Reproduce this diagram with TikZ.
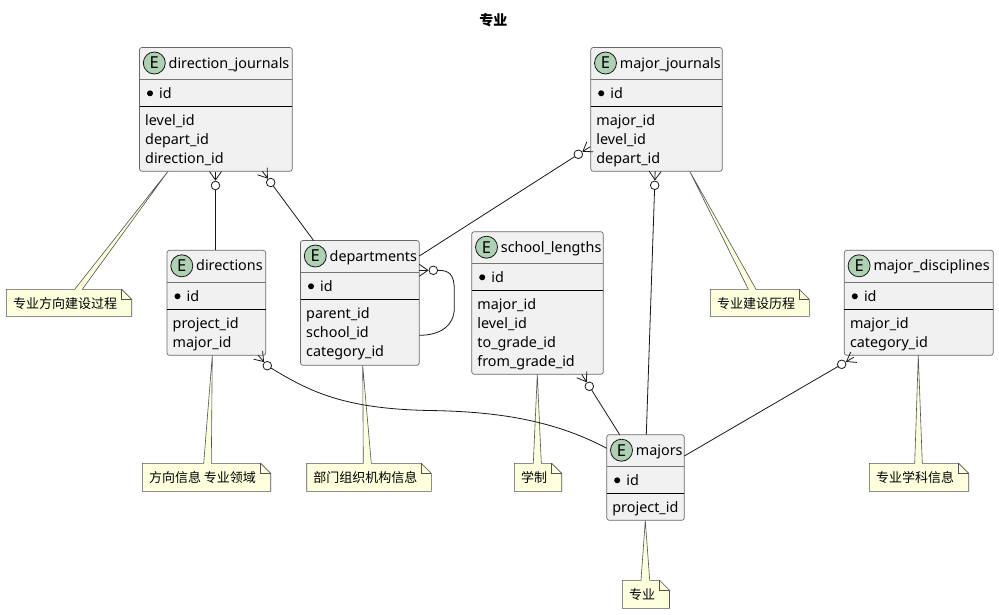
\documentclass[tikz,border=0pt]{standalone}
\usepackage{fontspec}
\setmainfont{Noto Sans}
\newfontfamily\cjk{Noto Sans CJK SC}
\usetikzlibrary{calc}
\definecolor{ebox}{HTML}{F1F1F1}
\definecolor{eline}{HTML}{181818}
\definecolor{eic}{HTML}{ADD1B2}
\definecolor{nbox}{HTML}{FEFFDD}
\tikzset{
  x=1pt,y=-1pt,
  entitybox/.style={draw=eline!65,line width=.7pt,fill=ebox,rounded corners=2.5pt,inner sep=0,outer sep=0,anchor=north west},
  headrule/.style={draw=eline!60,line width=.7pt},
  bodyrule/.style={draw=black,line width=.8pt},
  eicon/.style={circle,draw=eline,line width=.8pt,fill=eic,minimum size=22pt,inner sep=0,font=\fontsize{16.5}{16}\selectfont},
  entitytext/.style={anchor=base west,inner sep=0,font=\fontsize{14.35}{17}\selectfont},
  notetext/.style={anchor=west,inner sep=0,font=\fontsize{13}{15}\cjk},
  notefill/.style={draw=eline!75,line width=.6pt,fill=nbox,line join=miter},
  conn/.style={draw=eline,line width=.8pt},
  zeroc/.style={circle,draw=eline,line width=.8pt,fill=white,minimum size=8.6pt,inner sep=0,outer sep=0},
}
% name, left, right, top, header rule, body rule, bottom, title, fields
\newcommand\entity[9]{%
  \node[entitybox,minimum width={(#3-#2)*1pt},minimum height={(#7-#4)*1pt}] (#1) at (#2,#4) {};
  \draw[headrule] (#2,#5) -- (#3,#5);
  \draw[bodyrule] (#2,#6) -- (#3,#6);
  \node[eicon] (#1-icon) at (#2+14.8,#4+15.5) {E};
  \node[entitytext] (#1-title) at (#2+29,#4+20.5) {#8};
  \fill[black] (#2+10.5,#6-13) circle (3);
  \node[entitytext] (#1-id) at (#2+19.5,#6-8) {id};
  \foreach \f [count=\i] in {#9} {
    \node[entitytext] (#1-f\i) at (#2+5.5,#6+.5+19*\i) {\f};
  }
}
% name, left, right, top, bottom, tail left, tail right, tail apex, text
\newcommand\notebox[9]{%
  \coordinate (#1-apex) at #8;
  \draw[notefill] (#2,#4) -- (#6,#4) -- (#1-apex) -- (#7,#4) -- (#3-10,#4) -- (#3,#4+10) -- (#3,#5) -- (#2,#5) -- cycle;
  \draw[notefill,fill=none] (#3-10,#4) -- (#3-10,#4+10) -- (#3,#4+10);
  \node[notetext] (#1) at (#2+6.5,#4/2+#5/2+.5) {#9};
}
% name, centre x, centre y, unit vector towards the entity
\newcommand\crow[5]{%
  \pgfmathsetmacro\perpx{#5}%
  \pgfmathsetmacro\perpy{-1*(#4)}%
  \node[zeroc] (#1) at (#2,#3) {};
  \coordinate (#1-a) at ($(#1.center)+5.5*(#4,#5)$);
  \coordinate (#1-e) at ($(#1.center)+14*(#4,#5)$);
  \draw[conn] (#1-a) -- (#1-e);
  \draw[conn] ($(#1-e)+6*(\perpx,\perpy)$) -- (#1-a) -- ($(#1-e)-6*(\perpx,\perpy)$);
}
\begin{document}
\begin{tikzpicture}
\useasboundingbox[fill=white] (0,0) rectangle (999,614);
\node[anchor=center,inner sep=0,font=\fontsize{14}{16}\cjk\bfseries] (title) at (493.3,20) {专业};

\entity{dj}{139.5}{292.3}{47.5}{79.7}{106.3}{171.3}{direction\_journals}{level\_id,depart\_id,direction\_id}
\entity{mj}{590.7}{722.3}{47.5}{79.7}{106.3}{171.3}{major\_journals}{major\_id,level\_id,depart\_id}
\entity{dirs}{167}{265.7}{250.3}{282.3}{309.3}{355.3}{directions}{project\_id,major\_id}
\entity{dept}{300.5}{419.3}{240.5}{272.3}{299.3}{365.3}{departments}{parent\_id,school\_id,category\_id}
\entity{sl}{471.7}{603.3}{231.7}{263.3}{290.3}{374.3}{school\_lengths}{major\_id,level\_id,to\_grade\_id,from\_grade\_id}
\entity{md}{844.3}{993.3}{250.3}{282.3}{309.3}{355.3}{major\_disciplines}{major\_id,category\_id}
\entity{maj}{606.7}{684.3}{434.7}{466.3}{493.3}{520.3}{majors}{project\_id}

\notebox{n1}{6.3}{131.7}{289.3}{316.3}{74.7}{82.3}{($(dj.south west)+(28.5,0)$)}{专业方向建设过程}
\notebox{n2}{710.3}{809.3}{289.3}{316.3}{748.3}{756}{($(mj.south west)+(99,0)$)}{专业建设历程}
\notebox{n3}{142.3}{270.7}{463.3}{491.3}{203.7}{211.3}{($(dirs.south west)+(45.3,0)$)}{方向信息 专业领域}
\notebox{n4}{306.7}{431.3}{463.3}{491.3}{363.3}{371.3}{($(dept.south west)+(62.2,0)$)}{部门组织机构信息}
\notebox{n5}{514.3}{561.7}{463.3}{491.3}{533.3}{541.3}{($(sl.south west)+(65.6,0)$)}{学制}
\notebox{n6}{869.3}{968.7}{463.3}{491.3}{914.7}{922.3}{($(md.south west)+(74,0)$)}{专业学科信息}
\notebox{n7}{622.3}{669.5}{580.3}{608.3}{641}{649.7}{($(maj.south west)+(38.6,0)$)}{专业}

\crow{c1}{215.5}{185.5}{0}{-1}
\draw[conn] (c1) -- ($(dirs.north west)+(48.5,0)$);
\crow{c2}{270.7}{182.5}{-.595}{-.804}
\draw[conn] (c2) -- ($(dept.north west)+(13.1,0)$);
\crow{c3}{578.3}{154.3}{.8425}{-.539}
\draw[conn] (c3) -- ($(dept.north east)+(0,15.5)$);
\crow{c4}{654.7}{185.3}{.0337}{-.9994}
\draw[conn] (c4) -- ($(maj.north west)+(39.6,0)$);
\crow{c5}{433.3}{270.3}{-1}{0}
\draw[conn] (c5) .. controls (449,270.3) and (454.3,274) .. (454.3,290) -- (454.3,308)
  .. controls (454.3,326) and (440,335.3) .. ($(dept.south east)+(0,-30)$);
\crow{c6}{267.3}{365.7}{-.66}{-.75}
\draw[conn] (c6) .. controls (310,392) and (345,409) .. (430,410.5)
  .. controls (490,411.5) and (550,418) .. ($(maj.north west)+(0,13.6)$);
\crow{c7}{589.3}{386.3}{-.537}{-.843}
\draw[conn] (c7) -- ($(maj.north west)+(13,0)$);
\crow{c8}{841.7}{364.3}{.864}{-.504}
\draw[conn] (c8) -- ($(maj.north east)+(0,21.3)$);
\end{tikzpicture}
\end{document}
